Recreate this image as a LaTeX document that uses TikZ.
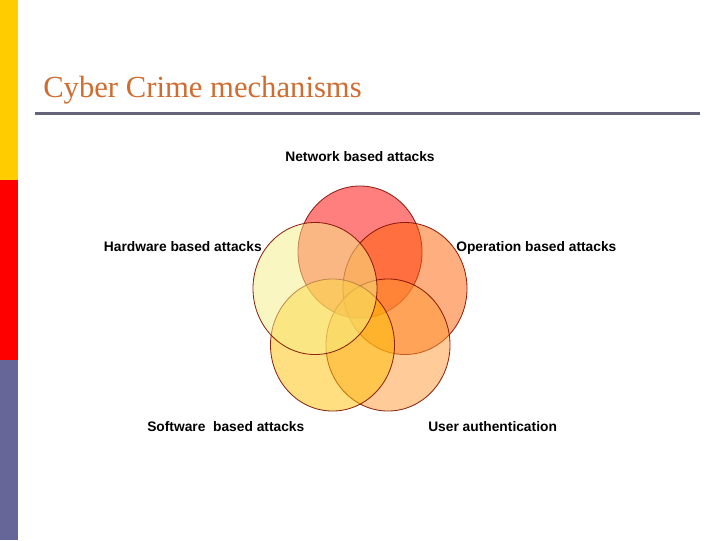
\documentclass[tikz,border=0pt]{standalone}
\usepackage{fontspec}
\setmainfont{Liberation Sans}
\newfontfamily\titlefont{Liberation Serif}
\usetikzlibrary{positioning, shapes.geometric}
\definecolor{baryellow}{RGB}{255,204,0}
\definecolor{barred}{RGB}{255,0,0}
\definecolor{barblue}{RGB}{102,102,153}
\definecolor{titleorange}{RGB}{208,108,48}
\definecolor{rulegray}{RGB}{100,100,122}
\definecolor{rimbrown}{RGB}{128,16,0}
\definecolor{netfill}{RGB}{255,0,0}
\definecolor{opfill}{RGB}{255,97,1}
\definecolor{userfill}{RGB}{255,153,51}
\definecolor{softfill}{RGB}{255,193,1}
\definecolor{hardfill}{RGB}{247,239,135}
\tikzset{
  setblob/.style={ellipse, draw=rimbrown, line width=0.6pt, fill opacity=0.5, draw opacity=0.9, minimum width=3.1cm, minimum height=3.3cm, inner sep=0pt},
  setlabel/.style={font=\fontsize{9.8pt}{11pt}\selectfont\bfseries, inner sep=0pt},
  every node/.style={font=\small}
}
\begin{document}
\begin{tikzpicture}[x=0.025cm, y=-0.025cm]
    \useasboundingbox[fill=white] (0,0) rectangle (720,540);
    \fill[baryellow] (0,0) rectangle (18,180);
    \fill[barred] (0,180) rectangle (18,360);
    \fill[barblue] (0,360) rectangle (18,540);

    \node[anchor=base west, inner sep=0pt, text=titleorange, font=\titlefont\fontsize{21.8pt}{24pt}\selectfont] (title) at (43,97) {Cyber Crime mechanisms};
    \draw[rulegray, line width=1.8pt] (35,113.5) -- (700,113.5);

    \node[setblob, fill=netfill] (net) at (360,252) {};
    \node[setblob, fill=opfill] (op) at (405,288.5) {};
    \node[setblob, fill=userfill] (user) at (388,345) {};
    \node[setblob, fill=softfill] (soft) at (332.5,345) {};
    \node[setblob, fill=hardfill] (hard) at (315,288.5) {};

    \node[setlabel, anchor=base] (netlabel) at (360,161.5) {Network based attacks};
    \node[setlabel, anchor=base east] (hardlabel) at (262,251.5) {Hardware based attacks};
    \node[setlabel, anchor=base west] (oplabel) at (456,251.5) {Operation based attacks};
    \node[setlabel, anchor=base west] (softlabel) at (147,431.5) {Software\ \ based attacks};
    \node[setlabel, anchor=base west] (userlabel) at (428,431.5) {User authentication};
\end{tikzpicture}
\end{document}
